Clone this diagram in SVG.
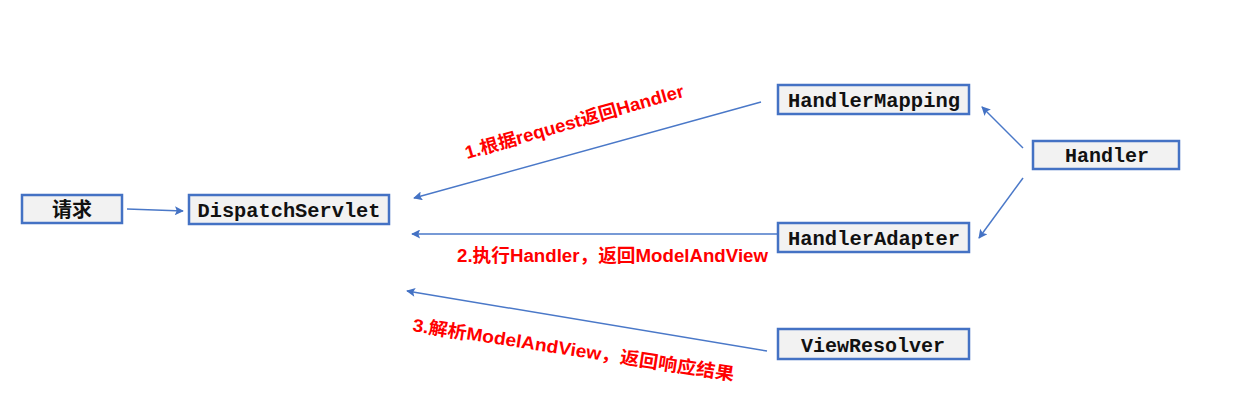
<svg xmlns="http://www.w3.org/2000/svg" width="1253" height="403" viewBox="0 0 1253 403">
<style>
.box{fill:#f2f2f2;stroke:#4472c4;stroke-width:2.5}
.bt{font-family:"Liberation Mono","DejaVu Sans Mono",monospace;font-weight:bold;font-size:20px;fill:#111;text-anchor:middle}
.cn{font-family:"Noto Sans CJK SC",sans-serif;font-weight:bold;font-size:20px;fill:#111;text-anchor:middle}
.lbl{font-family:"Liberation Sans","Noto Sans CJK SC",sans-serif;font-weight:bold;font-size:18px;fill:#ff0000}
.ln{stroke:#4a78c8;stroke-width:1.5;fill:none;marker-end:url(#ah)}
</style>
<defs>
<marker id="ah" viewBox="0 0 10 10" refX="9" refY="5" markerWidth="11" markerHeight="9" markerUnits="userSpaceOnUse" orient="auto">
<path d="M0,0 L10,5 L0,10 L2,5 Z" fill="#4472c4"/>
</marker>
</defs>
<rect width="1253" height="403" fill="#ffffff"/>
<g id="connectors">
<line class="ln" x1="127" y1="209" x2="183" y2="211"/>
<line class="ln" x1="761" y1="102" x2="414" y2="198"/>
<line class="ln" x1="777" y1="234" x2="412" y2="234"/>
<line class="ln" x1="767" y1="351" x2="407" y2="291"/>
<line class="ln" x1="1023" y1="148" x2="982" y2="107"/>
<line class="ln" x1="1023" y1="178" x2="979" y2="238"/>
</g>
<g id="labels">
<text class="lbl" transform="translate(467,159) rotate(-16)" textLength="227" lengthAdjust="spacingAndGlyphs">1.根据request返回Handler</text>
<text class="lbl" x="457" y="262" textLength="311" lengthAdjust="spacingAndGlyphs">2.执行Handler，返回ModelAndView</text>
<text class="lbl" transform="translate(412,331) rotate(8.8)" textLength="325" lengthAdjust="spacingAndGlyphs">3.解析ModelAndView，返回响应结果</text>
</g>
<g id="node-request">
<rect class="box" x="22" y="195" width="100" height="28"/>
<text class="cn" x="72" y="217">请求</text>
</g>
<g id="node-dispatchservlet">
<rect class="box" x="189" y="195" width="200" height="29"/>
<text class="bt" x="289" y="217" textLength="183" lengthAdjust="spacingAndGlyphs">DispatchServlet</text>
</g>
<g id="node-handlermapping">
<rect class="box" x="778" y="85" width="191" height="29"/>
<text class="bt" x="874" y="107" textLength="172" lengthAdjust="spacingAndGlyphs">HandlerMapping</text>
</g>
<g id="node-handler">
<rect class="box" x="1033" y="141" width="146" height="28"/>
<text class="bt" x="1107" y="162" textLength="84" lengthAdjust="spacingAndGlyphs">Handler</text>
</g>
<g id="node-handleradapter">
<rect class="box" x="778" y="223" width="191" height="29"/>
<text class="bt" x="874" y="245" textLength="172" lengthAdjust="spacingAndGlyphs">HandlerAdapter</text>
</g>
<g id="node-viewresolver">
<rect class="box" x="778" y="329" width="191" height="30"/>
<text class="bt" x="873" y="352" textLength="144" lengthAdjust="spacingAndGlyphs">ViewResolver</text>
</g>
</svg>
